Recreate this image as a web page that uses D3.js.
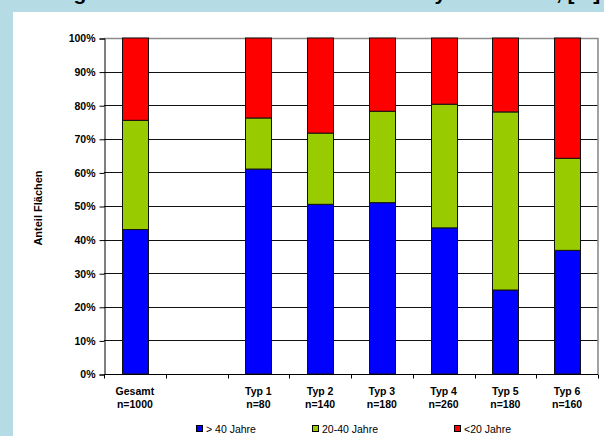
<!DOCTYPE html>
<html>
<head>
<meta charset="utf-8">
<script src="https://cdn.jsdelivr.net/npm/d3@7"></script>
<style>
  body { margin: 0; background: #ffffff; }
  svg { display: block; }
  text { font-family: "Liberation Sans", Arial, Helvetica, sans-serif; }
</style>
</head>
<body>
<svg id="chart" width="604" height="436"></svg>
<script>
// Age structure of areas, overall and per type (shares in %)
const categories  = ["Gesamt", "", "Typ 1", "Typ 2", "Typ 3", "Typ 4", "Typ 5", "Typ 6"];
const sampleSizes = ["n=1000", "", "n=80", "n=140", "n=180", "n=260", "n=180", "n=160"];
const over40      = [43.0, null, 61.0, 50.5, 51.0, 43.5, 25.0, 36.8];
const from20to40  = [32.5, null, 15.2, 21.2, 27.2, 36.8, 53.0, 27.4];
const under20     = [24.5, null, 23.8, 28.3, 21.8, 19.7, 22.0, 35.8];
const seriesNames  = ["> 40 Jahre", "20-40 Jahre", "<20 Jahre"];
const seriesColors = ["#0000ff", "#99cc00", "#ff0000"];
const yTickValues  = [0, 10, 20, 30, 40, 50, 60, 70, 80, 90, 100];
const yAxisTitle   = "Anteil Flächen";
const chartTitle   = "Alterung der Flächen im Bestand nach Analysebereiche, [%]";

const W = 604, H = 436;
const svg = d3.select("#chart");

// frame: light blue surround with white chart panel
svg.append("rect").attr("width", W).attr("height", H).attr("fill", "#b5dce4");
svg.append("rect").attr("x", 13).attr("y", 12).attr("width", W - 13).attr("height", H - 12).attr("fill", "#ffffff");

// title (runs off the top edge; only its descenders show)
svg.append("text")
  .attr("x", 0).attr("y", -0.5)
  .attr("font-size", 21).attr("font-weight", "bold").attr("fill", "#000")
  .text(chartTitle);

const plot = { left: 104, right: 598, top: 38, bottom: 374 };

const x = d3.scaleBand()
  .domain(d3.range(categories.length))
  .range([plot.left, plot.right])
  .paddingInner(0.58)
  .paddingOuter(0.29);

const y = d3.scaleLinear().domain([0, 100]).range([plot.bottom, plot.top]);
const crisp = v => Math.round(v) + 0.5;

// horizontal gridlines
svg.append("g").selectAll("line")
  .data(yTickValues.filter(v => v > 0 && v < 100))
  .join("line")
  .attr("x1", plot.left).attr("x2", plot.right)
  .attr("y1", d => crisp(y(d))).attr("y2", d => crisp(y(d)))
  .attr("stroke", "#111").attr("stroke-width", 1);

// top and right plot border
svg.append("path")
  .attr("d", `M${plot.left},${crisp(y(100))}H${plot.right}V${plot.bottom}`)
  .attr("fill", "none").attr("stroke", "#8c8c8c").attr("stroke-width", 1.6);

// stacked bars
const stackRows = categories.map((c, i) => ({ i, a: over40[i], b: from20to40[i], c: under20[i] }))
  .filter(r => r.a !== null);
const stacked = d3.stack().keys(["a", "b", "c"])(stackRows);

svg.append("g").selectAll("g")
  .data(stacked)
  .join("g")
  .attr("fill", (d, k) => seriesColors[k])
  .selectAll("rect")
  .data(d => d)
  .join("rect")
  .attr("x", d => Math.round(x(d.data.i)) + 0.5)
  .attr("width", Math.round(x.bandwidth()))
  .attr("y", d => y(d[1]))
  .attr("height", d => y(d[0]) - y(d[1]))
  .attr("stroke", "#111").attr("stroke-width", 1);

// y axis
const yAxis = d3.axisLeft(y)
  .tickValues(yTickValues)
  .tickFormat(d => d + "%")
  .tickSize(5)
  .tickPadding(4);
const gy = svg.append("g").attr("transform", `translate(${plot.left + 0.5},0.5)`).call(yAxis);
gy.select(".domain").attr("stroke", "#000");
gy.selectAll(".tick line").attr("stroke", "#000");
gy.selectAll(".tick text")
  .attr("font-family", "'Liberation Sans', Arial, sans-serif")
  .attr("font-size", 10.5).attr("font-weight", "bold").attr("fill", "#000");

// x axis: baseline with tick marks at category boundaries
const boundaries = d3.range(categories.length + 1).map(i => plot.left + i * x.step());
svg.append("line")
  .attr("x1", plot.left).attr("x2", plot.right)
  .attr("y1", crisp(y(0))).attr("y2", crisp(y(0)))
  .attr("stroke", "#000");
svg.append("g").selectAll("line")
  .data(boundaries)
  .join("line")
  .attr("x1", d => crisp(d)).attr("x2", d => crisp(d))
  .attr("y1", crisp(y(0))).attr("y2", crisp(y(0)) + 4)
  .attr("stroke", "#000");

// category labels (two lines)
const labels = svg.append("g").selectAll("text")
  .data(categories.map((c, i) => ({ c, n: sampleSizes[i], i })).filter(d => d.c))
  .join("text")
  .attr("text-anchor", "middle")
  .attr("font-size", 10.5).attr("font-weight", "bold").attr("fill", "#000");
labels.append("tspan")
  .attr("x", d => x(d.i) + x.bandwidth() / 2).attr("y", 395)
  .text(d => d.c);
labels.append("tspan")
  .attr("x", d => x(d.i) + x.bandwidth() / 2).attr("y", 408)
  .text(d => d.n);

// y axis title
svg.append("text")
  .attr("transform", `translate(42,${(plot.top + plot.bottom) / 2 + 2}) rotate(-90)`)
  .attr("text-anchor", "middle")
  .attr("font-size", 11).attr("font-weight", "bold").attr("fill", "#000")
  .text(yAxisTitle);

// legend
const legendX = [196, 312, 454];
const legend = svg.append("g").selectAll("g")
  .data(seriesNames)
  .join("g")
  .attr("transform", (d, k) => `translate(${legendX[k]},425)`);
legend.append("rect")
  .attr("x", 0.5).attr("y", 0.5).attr("width", 6).attr("height", 6)
  .attr("fill", (d, k) => seriesColors[k])
  .attr("stroke", "#000").attr("stroke-width", 1);
legend.append("text")
  .attr("x", 10).attr("y", 7.5)
  .attr("font-size", 10.5).attr("fill", "#000")
  .text(d => d);
</script>
</body>
</html>
